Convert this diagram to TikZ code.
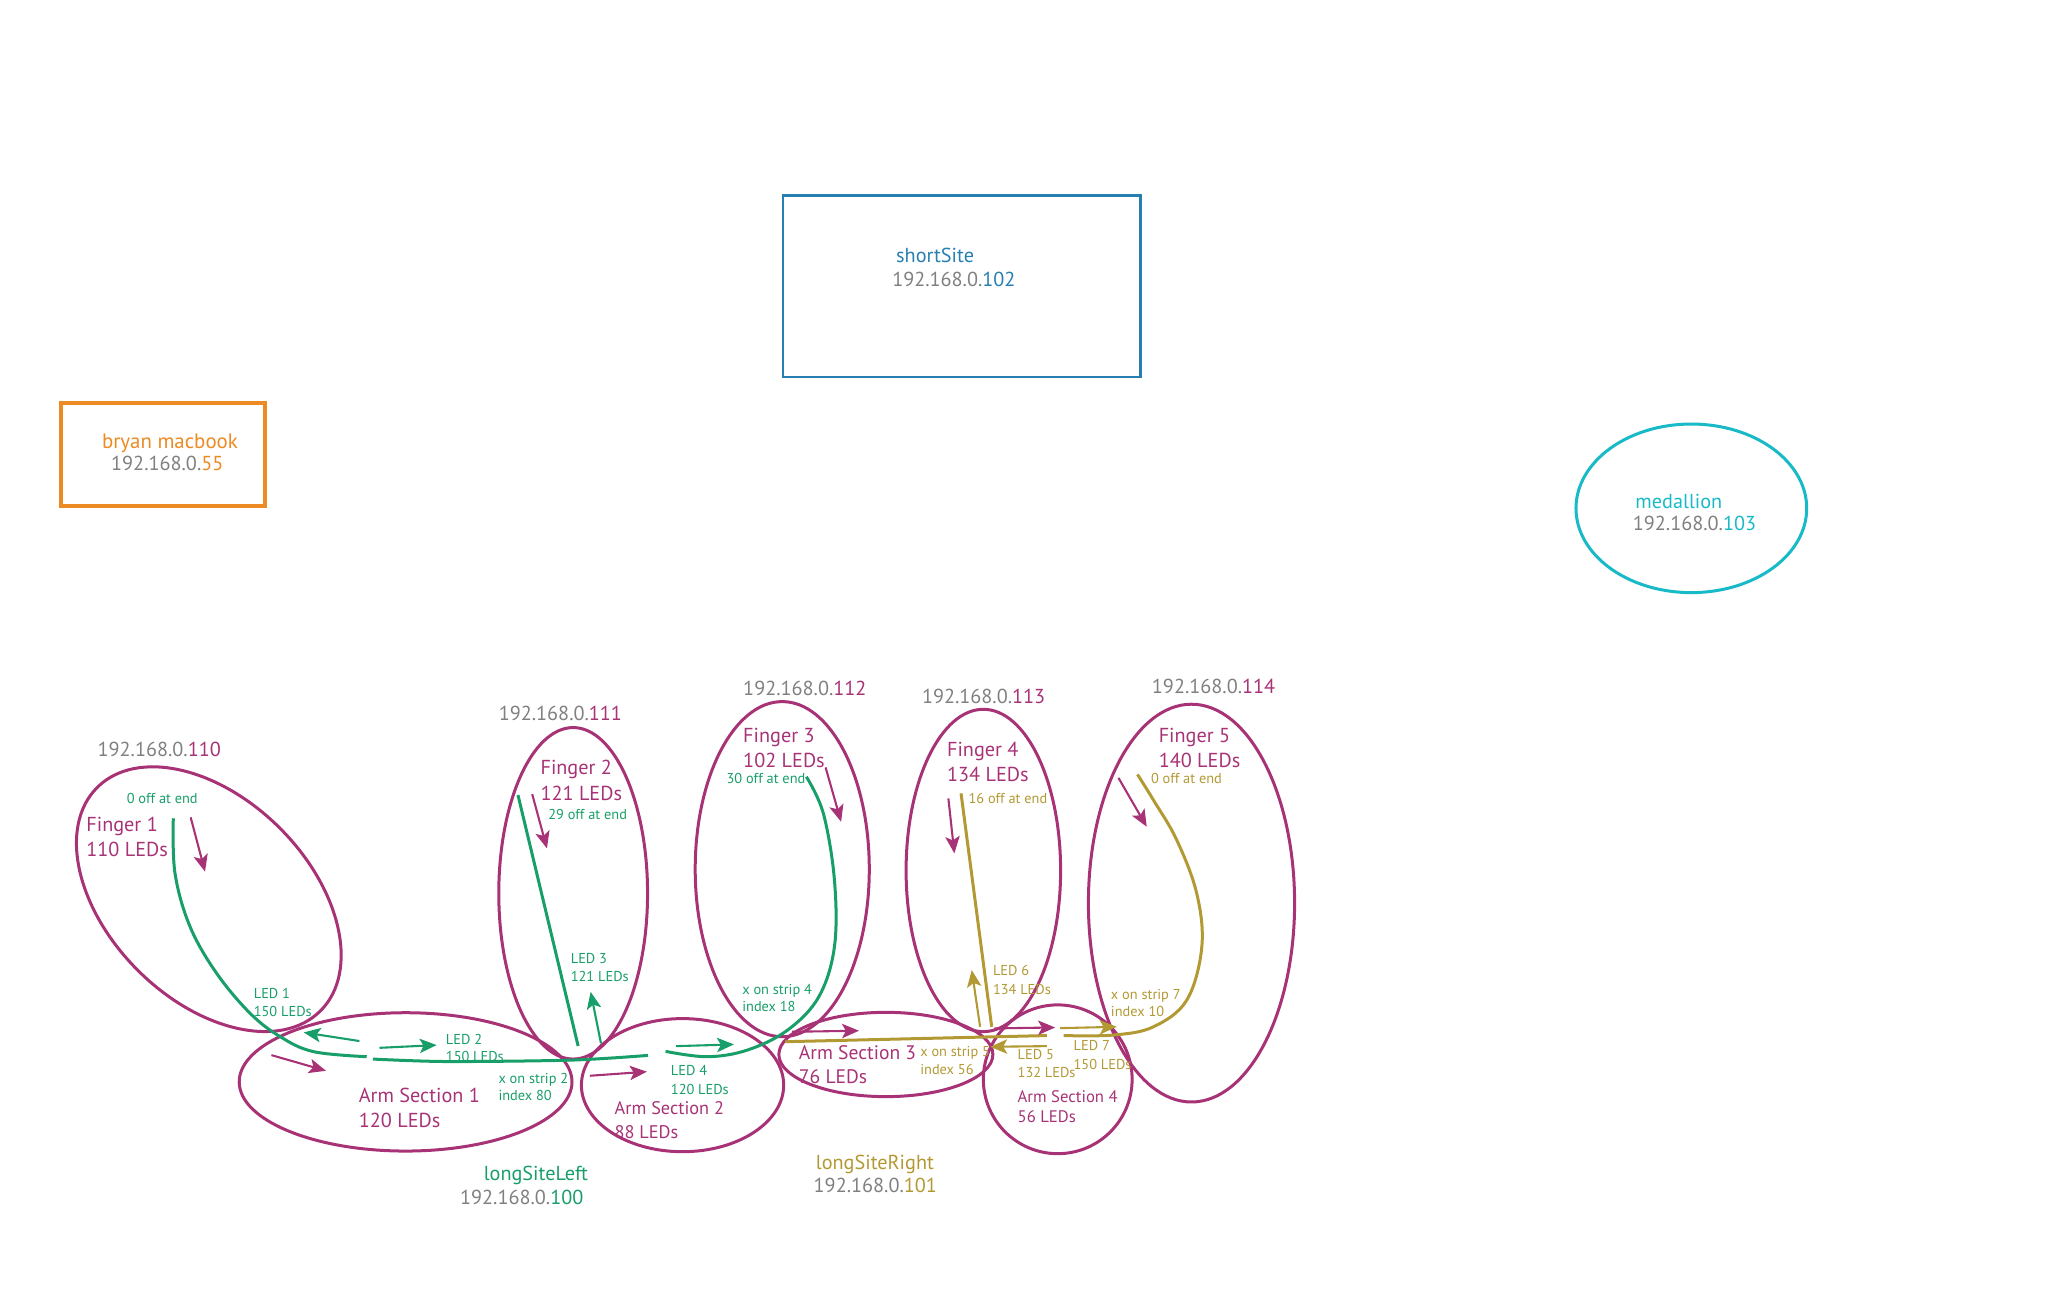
\documentclass[tikz,border=0pt]{standalone}
\usepackage{fontspec}
\setmainfont{PT Sans}
\usetikzlibrary{arrows.meta}
\definecolor{mag}{RGB}{168,50,118}
\definecolor{grn}{RGB}{24,158,104}
\definecolor{gld}{RGB}{178,153,52}
\definecolor{gry}{RGB}{128,128,128}
\definecolor{blu}{RGB}{38,127,176}
\definecolor{org}{RGB}{236,138,36}
\definecolor{cyn}{RGB}{23,186,198}
\begin{document}
\begin{tikzpicture}[x=1pt,y=-1pt,
  ell/.style={draw=mag,line width=2.3pt},
  strip/.style={line width=2.3pt,line cap=butt},
  dir/.style={line width=1.6pt,-{Stealth[length=13pt,width=11pt,inset=3pt]}},
  big/.style={anchor=base west,inner sep=0pt,font=\fontsize{15.5}{18}\selectfont},
  small/.style={anchor=base west,inner sep=0pt,font=\fontsize{11}{13}\selectfont},
]
\useasboundingbox (0,0) rectangle (1567,994);

% ---------- top devices ----------
\draw[blu,line width=2pt] (600,150) rectangle (874,289);
\node[big,blu] (ss1) at (686.5,201.5) {shortSite};
\node[big,gry] (ss2) at (683.5,219.5) {192.168.0.\textcolor{blu}{102}};

\draw[org,line width=3pt] (47,309) rectangle (203,388);
\node[big,org,font=\fontsize{16}{18}\selectfont] (bm1) at (78,344) {bryan macbook};
\node[big,gry] (bm2) at (85,360.5) {192.168.0.\textcolor{org}{55}};

\draw[cyn,line width=2.3pt] (1296,389.5) ellipse [x radius=88.4,y radius=64.6];
\node[big,cyn] (md1) at (1253,389.5) {medallion};
\node[big,gry] (md2) at (1251,406.5) {192.168.0.\textcolor{cyn}{103}};

% ---------- ellipses ----------
\draw[ell,rotate around={-45:(160,689)}] (160,689) ellipse [x radius=121,y radius=77];
\draw[ell] (439.2,684.5) ellipse [x radius=57,y radius=127];
\draw[ell] (599.4,666) ellipse [x radius=66.7,y radius=128.4];
\draw[ell] (753.5,667) ellipse [x radius=59.2,y radius=123.5];
\draw[ell] (913,692) ellipse [x radius=79,y radius=152.4];
\draw[ell] (310.8,829) ellipse [x radius=127.5,y radius=53];
\draw[ell] (523,831.5) ellipse [x radius=77.5,y radius=51];
\draw[ell] (678.8,808) ellipse [x radius=82,y radius=32.3];
\draw[ell] (810.5,827) circle [radius=57];

% ---------- green strip (longSiteLeft) ----------
\draw[strip,grn] plot[smooth,tension=0.6] coordinates {(132.8,627) (134.1,669.2) (145.6,710) (166,745.8) (191.6,776.4) (214.6,794.3) (240.1,805.8) (281,809.7)};
\draw[strip,grn] plot[smooth] coordinates {(285.7,811.5) (342,813.4) (438,812.3) (496.5,808.7)};
\draw[strip,grn] (396.9,609.2) -- (443,801.5);
\draw[strip,grn] plot[smooth,tension=0.6] coordinates {(617.9,595.2) (630.9,623.3) (639.4,674.4) (639.4,725.4) (627.4,763.8) (603.5,789.3) (572.7,804.6) (541.9,809.7) (510,805.6)};

% ---------- gold strip (longSiteRight) ----------
\draw[strip,gld] (736.4,607.9) -- (759.9,786.8);
\draw[strip,gld] (601.8,798.2) -- (802.2,793.5);
\draw[strip,gld] plot[smooth,tension=0.6] coordinates {(815,793.5) (853.2,793.1) (883.8,786.8) (909.4,766.3) (920.9,725.5) (917,684.6) (901.7,643.7) (883.8,613) (871.6,593.4)};

% ---------- direction arrows ----------
\draw[dir,mag] (146.1,626.3) -- (157.1,667.9);
\draw[dir,mag] (407.8,608.5) -- (419.1,650.1);
\draw[dir,mag] (632.6,588) -- (644.5,629.7);
\draw[dir,mag] (726.7,611.8) -- (731.3,653.9);
\draw[dir,mag] (857,596) -- (878.7,633.5);
\draw[dir,mag] (208,808.5) -- (249.8,820.5);
\draw[dir,mag] (452,824.3) -- (495.7,821.2);
\draw[dir,mag] (606.9,790.6) -- (658.2,789.8);
\draw[dir,mag] (762,788) -- (808.5,787.3);

\draw[dir,grn] (275.4,797.7) -- (232.7,791.1);
\draw[dir,grn] (290.8,802.9) -- (334.6,800.8);
\draw[dir,grn] (460.5,799.5) -- (452.6,760);
\draw[dir,grn] (518,801.6) -- (562.4,800.3);

\draw[dir,gld] (751,786.8) -- (744.6,743.3);
\draw[dir,gld] (802.1,801.6) -- (758.7,802.1);
\draw[dir,gld] (812.3,787.8) -- (855.7,786.8);

% ---------- finger / arm labels ----------
\node[big,gry] (ip110) at (74.6,579.5) {192.168.0.\textcolor{mag}{110}};
\node[big,mag] (f1a) at (66,637) {Finger 1};
\node[big,mag] (f1b) at (66,656) {110 LEDs};

\node[big,gry] (ip111) at (382,552) {192.168.0.\textcolor{mag}{111}};
\node[big,mag] (f2a) at (414,593.5) {Finger 2};
\node[big,mag] (f2b) at (414,613.5) {121 LEDs};

\node[big,gry] (ip112) at (569.3,533) {192.168.0.\textcolor{mag}{112}};
\node[big,mag] (f3a) at (569.3,568.7) {Finger 3};
\node[big,mag] (f3b) at (569.3,588) {102 LEDs};

\node[big,gry] (ip113) at (706.3,539) {192.168.0.\textcolor{mag}{113}};
\node[big,mag] (f4a) at (725.5,579.7) {Finger 4};
\node[big,mag] (f4b) at (725.5,598.6) {134 LEDs};

\node[big,gry] (ip114) at (882.5,531.7) {192.168.0.\textcolor{mag}{114}};
\node[big,mag] (f5a) at (887.7,568.7) {Finger 5};
\node[big,mag] (f5b) at (887.7,588) {140 LEDs};

\node[big,mag] (a1a) at (274.8,844.6) {Arm Section 1};
\node[big,mag] (a1b) at (274.8,863.8) {120 LEDs};
\node[big,mag,font=\fontsize{14}{16}\selectfont] (a2a) at (470.8,854.3) {Arm Section 2};
\node[big,mag,font=\fontsize{14}{16}\selectfont] (a2b) at (470.8,872.7) {88 LEDs};
\node[big,mag,font=\fontsize{15}{17}\selectfont] (a3a) at (612,812.2) {Arm Section 3};
\node[big,mag,font=\fontsize{15}{17}\selectfont] (a3b) at (612,830.6) {76 LEDs};
\node[big,mag,font=\fontsize{12.8}{15}\selectfont] (a4a) at (779.6,845) {Arm Section 4};
\node[big,mag,font=\fontsize{12.8}{15}\selectfont] (a4b) at (779.6,860.3) {56 LEDs};

\node[big,grn] (lsl1) at (370.5,904.6) {longSiteLeft};
\node[big,gry] (lsl2) at (352.4,923) {192.168.0.\textcolor{grn}{100}};
\node[big,gld] (lsr1) at (625,896.2) {longSiteRight};
\node[big,gry] (lsr2) at (623.3,913.5) {192.168.0.\textcolor{gld}{101}};

% ---------- strip labels ----------
\node[small,grn] (g1) at (97,615.5) {0 off at end};
\node[small,grn] (g2) at (420,628) {29 off at end};
\node[small,grn] (g3a) at (194.3,765.2) {LED 1};
\node[small,grn] (g3b) at (194.3,779) {150 LEDs};
\node[small,grn] (g4a) at (341.5,800) {LED 2};
\node[small,grn] (g4b) at (341.5,813.5) {150 LEDs};
\node[small,grn] (g5a) at (437.2,738.2) {LED 3};
\node[small,grn] (g5b) at (437.2,752.2) {121 LEDs};
\node[small,grn] (g6a) at (381.8,829.9) {x on strip 2};
\node[small,grn] (g6b) at (381.8,843.4) {index 80};
\node[small,grn] (g7a) at (513.9,824.3) {LED 4};
\node[small,grn] (g7b) at (513.9,838.3) {120 LEDs};
\node[small,grn] (g8) at (556.6,600.7) {30 off at end};
\node[small,grn] (g9a) at (568.6,761.7) {x on strip 4};
\node[small,grn] (g9b) at (568.6,775.2) {index 18};

\node[small,gld] (y1) at (742,616) {16 off at end};
\node[small,gld] (y2a) at (760.7,747.6) {LED 6};
\node[small,gld] (y2b) at (760.7,761.7) {134 LEDs};
\node[small,gld] (y3a) at (705,809.4) {x on strip 5};
\node[small,gld] (y3b) at (705,823.5) {index 56};
\node[small,gld] (y4a) at (779.6,811.5) {LED 5};
\node[small,gld] (y4b) at (779.6,825.5) {132 LEDs};
\node[small,gld] (y5a) at (822.5,805.1) {LED 7};
\node[small,gld] (y5b) at (822.5,819.2) {150 LEDs};
\node[small,gld] (y6) at (881.8,600.7) {0 off at end};
\node[small,gld] (y7a) at (851.1,765.5) {x on strip 7};
\node[small,gld] (y7b) at (851.1,779) {index 10};
\end{tikzpicture}
\end{document}
